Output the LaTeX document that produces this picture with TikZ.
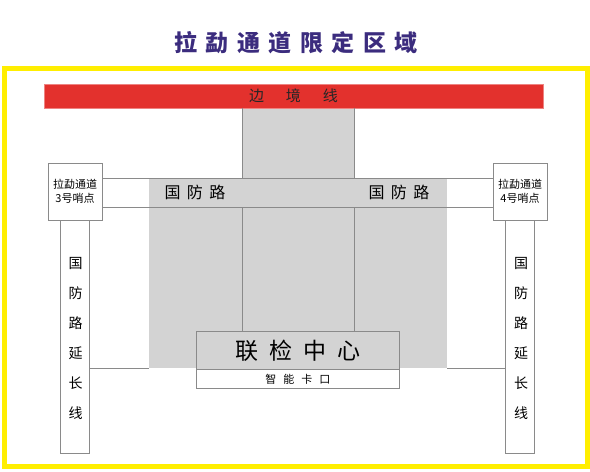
\documentclass[tikz,border=0pt]{standalone}
\usepackage{fontspec}
\setmainfont{Noto Sans CJK SC}
\definecolor{titlec}{HTML}{3B2C7E}
\definecolor{redbar}{HTML}{E3312D}
\definecolor{grayfill}{HTML}{D3D3D3}
\definecolor{edge}{HTML}{8A8A8A}
\definecolor{frame}{HTML}{FFEE00}
\tikzset{
  box/.style={draw=edge, line width=0.9pt, fill=white, inner sep=0pt},
  ln/.style={draw=edge, line width=0.9pt},
  vtext/.style={font=\fontsize{14}{14}\selectfont, text=black},
}
\begin{document}
\begin{tikzpicture}[x=1pt,y=-1pt]
\useasboundingbox (0,0) rectangle (590,472);
% title
\node[text=titlec, font=\fontsize{23}{23}\selectfont\bfseries] (title) at (296,43)
  {拉\hspace{8.5pt}勐\hspace{8.5pt}通\hspace{8.5pt}道\hspace{8.5pt}限\hspace{8.5pt}定\hspace{8.5pt}区\hspace{8.5pt}域};
% yellow frame
\draw[frame, line width=5pt] (4.5,68.5) rectangle (587.5,466.5);
% gray regions
\fill[grayfill] (242,108) rectangle (354,178);
\fill[grayfill] (149,178) rectangle (447,368);
% red border bar
\node[fill=redbar, draw=redbar!60!white, line width=0.6pt, minimum width=499pt, minimum height=24pt, inner sep=0pt] (border) at (293.5,96) {};
\node[font=\fontsize{15}{15}\selectfont, text=black!85] (bordertext) at (border.center)
  {边\hspace{22pt}境\hspace{22pt}线};
% road lines
\coordinate (roadTL) at (102,178);
\coordinate (roadTR) at (493,178);
\coordinate (roadBL) at (102,207);
\coordinate (roadBR) at (493,207);
\draw[ln] (roadTL) -- (roadTR);
\draw[ln] (roadBL) -- (roadBR);
% center column lines
\coordinate (colLtop) at (242,108);
\coordinate (colRtop) at (354,108);
% inspection centre
\node[box, fill=grayfill, minimum width=203pt, minimum height=38pt, anchor=north west] (center) at (196,331)
  {\fontsize{23}{23}\selectfont 联\hspace{11pt}检\hspace{11pt}中\hspace{11pt}心};
\node[box, minimum width=203pt, minimum height=19pt, anchor=north west] (gate) at (196,369)
  {\fontsize{11}{11}\selectfont 智\hspace{7pt}能\hspace{7pt}卡\hspace{7pt}口};
\draw[ln] (colLtop) -- (colLtop |- roadTL);
\draw[ln] (colRtop) -- (colRtop |- roadTR);
\draw[ln] (colLtop |- roadBL) -- (colLtop |- center.north);
\draw[ln] (colRtop |- roadBR) -- (colRtop |- center.north);
% road labels
\node[font=\fontsize{16}{16}\selectfont] (roadL) at (195,192) {国\hspace{6.5pt}防\hspace{6.5pt}路};
\node[font=\fontsize{16}{16}\selectfont] (roadR) at (399,192) {国\hspace{6.5pt}防\hspace{6.5pt}路};
% sentry posts
\node[box, minimum width=54pt, minimum height=57pt, align=center, font=\fontsize{11}{14}\selectfont] (post3) at (75,191.5)
  {拉勐通道\\3号哨点};
\node[box, minimum width=54pt, minimum height=57pt, align=center, font=\fontsize{11}{14}\selectfont] (post4) at (520,191.5)
  {拉勐通道\\4号哨点};
% extension boxes
\node[box, minimum width=29pt, minimum height=233pt, anchor=north] (extL) at (post3.south)
  {};
\node[box, minimum width=29pt, minimum height=233pt, anchor=north] (extR) at (post4.south)
  {};
\foreach \c [count=\i] in {国,防,路,延,长,线}{
  \node[vtext] (l\i) at (75.5,233+30*\i) {\c};
  \node[vtext] (r\i) at (521,233+30*\i) {\c};
}
% connectors to gray area
\coordinate (grayBL) at (149,368);
\coordinate (grayBR) at (447,368);
\draw[ln] (extL.east |- grayBL) -- (grayBL);
\draw[ln] (grayBR) -- (extR.west |- grayBR);
\end{tikzpicture}
\end{document}
